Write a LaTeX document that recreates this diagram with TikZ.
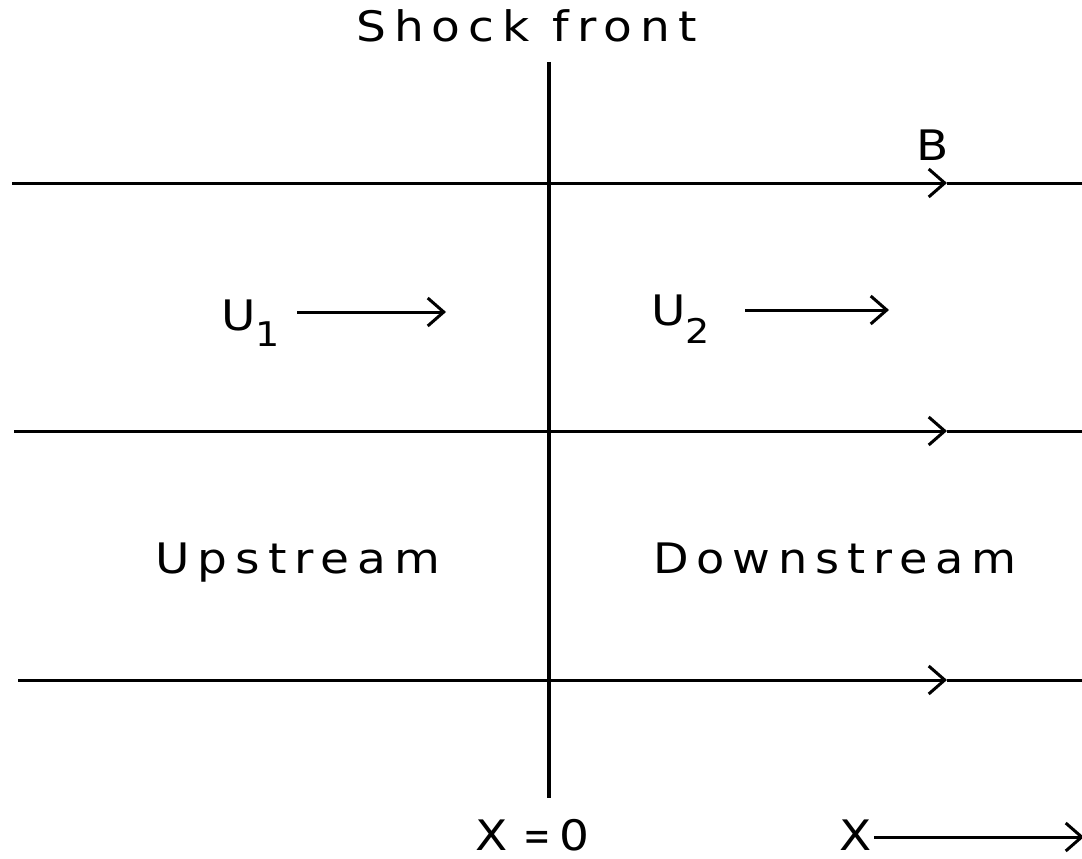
\documentclass[tikz,border=0pt]{standalone}
\usepackage{fontspec}
\newfontfamily\plotfont[LetterSpace=17]{DejaVu Sans}
\usetikzlibrary{arrows.meta}
\newcommand\wtxt[1]{\scalebox{1.12}[1]{#1}}
\begin{document}
\begin{tikzpicture}[x=1pt,y=-1pt,
  lab/.style={font=\plotfont\fontsize{42}{50}\selectfont,inner sep=0pt,anchor=base west,text depth=0pt},
  fline/.style={line width=3pt},
  arr/.style={line width=3pt,-{Straight Barb[length=16pt,width=28pt]}},
  shock/.style={line width=3.5pt}]
\useasboundingbox (0,0) rectangle (1082,859);
% shock front
\coordinate (st) at (549,62);
\coordinate (sb) at (549,798);
\draw[shock] (st) -- (sb);
% field lines
\foreach \i/\y/\xl in {1/183/12,2/431/14,3/680/18}{
  \coordinate (L\i) at (\xl,\y);
  \coordinate (M\i) at (947,\y);
  \coordinate (R\i) at (1082,\y);
  \draw[arr] (L\i) -- (M\i);
  \draw[fline] (M\i) -- (R\i);
}
% labels
\node[lab] (title) at (356,42) {\wtxt{Shock front}};
\node[lab] (B) at (916,160) {\wtxt{B}};
\node[lab] (u1) at (221,330) {\wtxt{U\raisebox{-0.4em}{\fontsize{34}{40}\selectfont 1}}};
\coordinate (u1s) at (297,312);
\coordinate (u1e) at (446,312);
\draw[arr] (u1s) -- (u1e);
\node[lab] (u2) at (651,325) {\wtxt{U\raisebox{-0.45em}{\fontsize{34}{40}\selectfont 2}}};
\coordinate (u2s) at (745,310);
\coordinate (u2e) at (889,310);
\draw[arr] (u2s) -- (u2e);
\node[lab] (up) at (155,573) {\wtxt{Upstream}};
\node[lab] (down) at (653,573) {\scalebox{1.1}[1]{Downstream}};
\node[lab] (x0) at (475,850) {\wtxt{X\kern14pt\scalebox{0.7}[1]{=}\kern8pt 0}};
\node[lab] (xx) at (839,850) {\wtxt{X}};
\coordinate (xs) at (874,837);
\coordinate (xe) at (1084,837);
\draw[arr] (xs) -- (xe);
\end{tikzpicture}
\end{document}
